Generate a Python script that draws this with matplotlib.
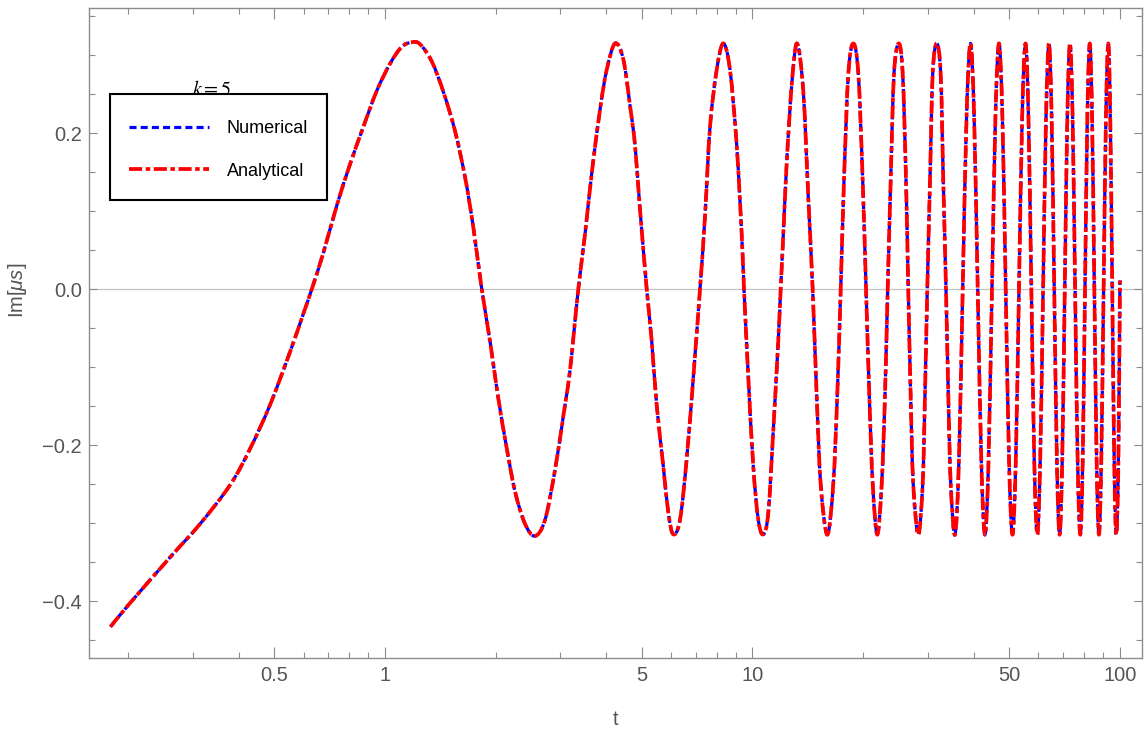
import matplotlib
matplotlib.use("Agg")
import numpy as np
import matplotlib.pyplot as plt
from matplotlib.lines import Line2D
from matplotlib.patches import PathPatch, Rectangle
from matplotlib.path import Path
from matplotlib.ticker import FixedLocator, NullFormatter

# values (log-scaled t axis)
t = [
    0.179, 0.202, 0.260, 0.314, 0.379, 0.429, 0.486, 0.551, 0.599, 0.632,
    0.679, 0.739, 0.803, 0.873, 0.949, 1.032, 1.110, 1.182, 1.245, 1.340,
    1.441, 1.550, 1.651, 1.739, 1.833, 1.931, 2.034, 2.145, 2.258, 2.404,
    2.559, 2.725, 2.901, 3.056, 3.187, 3.357, 3.501, 3.651, 3.846, 4.011,
    4.226, 4.451, 4.642, 4.789, 4.941, 5.154, 5.318, 5.488, 5.719, 5.901,
    6.088, 6.349, 6.621, 6.902, 7.197, 7.425, 7.662, 7.990, 8.327, 8.685,
    9.057, 9.346, 9.482, 9.741, 10.05, 10.37, 10.70, 11.04, 11.39, 11.75,
    11.93, 12.13, 12.39, 12.79, 13.22, 13.75, 14.19, 14.58, 14.95, 15.33,
    15.98, 16.59, 17.01, 17.38, 17.74, 18.23, 18.81, 19.41, 19.95, 20.37,
    20.79, 21.24, 21.86, 22.47, 22.94, 23.33, 23.77, 24.27, 25.00, 25.63,
    26.17, 26.54, 26.94, 27.38, 28.26, 29.05, 29.47, 29.90, 30.41, 30.93,
    31.72, 32.52, 33.05, 33.62, 34.11, 34.63, 35.56,
    36.44, 37.33, 38.25, 39.19, 40.09, 41.01, 41.96, 42.92,
    43.87, 44.84, 45.84, 46.85, 47.86, 48.88, 49.92, 50.99,
    52.04, 53.11, 54.20, 55.32, 56.35, 57.40, 58.47, 59.56,
    60.65, 61.78, 62.94, 64.09, 65.16, 66.25, 67.37, 68.50,
    69.62, 70.76, 71.92, 73.11, 74.31, 75.50, 76.72, 77.98,
    79.16, 80.33, 81.53, 82.76, 83.96, 85.18, 86.42, 87.67,
    88.94, 90.26, 91.60, 92.93, 94.10, 95.29, 96.49, 97.71,
    99.00, 100.0,
]

im_analytical = [
    -0.433, -0.403, -0.344, -0.301, -0.251, -0.205, -0.149, -0.081, -0.032, 0.000,
    0.046, 0.107, 0.160, 0.208, 0.254, 0.289, 0.3105, 0.3165, 0.314, 0.292,
    0.253, 0.203, 0.1435, 0.079, 0.000, -0.067, -0.1405, -0.2046, -0.2595, -0.301,
    -0.3167, -0.296, -0.232, -0.163, -0.104, 0.000, 0.070, 0.148, 0.230, 0.281,
    0.315, 0.2945, 0.235, 0.1846, 0.102, 0.000, -0.067, -0.1496, -0.2274, -0.287,
    -0.3145, -0.296, -0.218, -0.113, 0.000, 0.093, 0.2077, 0.281, 0.315, 0.281,
    0.1846, 0.070, 0.000, -0.113, -0.2274, -0.296, -0.3145, -0.287, -0.1817, -0.067,
    0.000, 0.070, 0.1617, 0.2625, 0.315, 0.253, 0.116, 0.000, -0.136, -0.250,
    -0.315, -0.250, -0.136, 0.000, 0.139, 0.276, 0.315, 0.276, 0.139, 0.000,
    -0.136, -0.250, -0.315, -0.250, -0.136, 0.000, 0.139, 0.276, 0.315, 0.276,
    0.139, 0.000, -0.136, -0.250, -0.315, -0.250, -0.136, 0.000, 0.139, 0.276,
    0.315, 0.276, 0.139, 0.000, -0.136, -0.250, -0.315,
    -0.223, 0.000, 0.223, 0.315, 0.223, 0.000, -0.223, -0.315,
    -0.223, 0.000, 0.223, 0.315, 0.223, 0.000, -0.223, -0.315,
    -0.223, 0.000, 0.223, 0.315, 0.223, 0.000, -0.223, -0.315,
    -0.223, 0.000, 0.223, 0.315, 0.223, 0.000, -0.223, -0.315,
    -0.223, 0.000, 0.223, 0.315, 0.223, 0.000, -0.223, -0.315,
    -0.223, 0.000, 0.223, 0.315, 0.223, 0.000, -0.223, -0.315,
    -0.223, 0.000, 0.223, 0.315, 0.223, 0.000, -0.223, -0.315,
    -0.223, 0.011,
]

# numerical solution sits on top of the analytical one within the line width
im_numerical = list(im_analytical)

x_major = [0.5, 1, 5, 10, 50, 100]
x_major_labels = ["0.5", "1", "5", "10", "50", "100"]
x_minor = [0.2, 0.3, 0.4, 0.6, 0.7, 0.8, 0.9, 2, 3, 4, 6, 7, 8, 9,
           20, 30, 40, 60, 70, 80, 90]
y_major = [-0.4, -0.2, 0.0, 0.2]
y_minor = [-0.45, -0.35, -0.3, -0.25, -0.15, -0.1, -0.05,
           0.05, 0.1, 0.15, 0.25, 0.3, 0.35]

FRAME = "#8c8c8c"
LABEL = "#555555"

plt.rcParams["mathtext.fontset"] = "custom"
plt.rcParams["mathtext.it"] = "Liberation Sans:italic"
plt.rcParams["mathtext.rm"] = "Liberation Sans"


def smooth_path(x, y):
    # cubic curve through the read points, built in log(t) so it follows the axis
    p = np.column_stack([np.log10(x), y])
    ext = np.vstack([p[0], p, p[-1]])
    verts, codes = [p[0]], [Path.MOVETO]
    for i in range(len(p) - 1):
        verts += [ext[i + 1] + (ext[i + 2] - ext[i]) / 6,
                  ext[i + 2] - (ext[i + 3] - ext[i + 1]) / 6,
                  p[i + 1]]
        codes += [Path.CURVE4] * 3
    verts = np.array(verts)
    verts[:, 0] = 10 ** verts[:, 0]
    return Path(verts, codes)


fig = plt.figure(figsize=(11.46, 7.34), dpi=100)
ax = fig.add_axes([0.0777, 0.1035, 0.9188, 0.8855])
ax.set_xscale("log")
ax.set_xlim(0.1565, 114.8)
ax.set_ylim(-0.4731, 0.3603)

ax.axhline(0, color="#c4c4c4", lw=0.9, zorder=1)

blue_style = dict(color="#0000ff", lw=2.3, dashes=(2.2, 1.3))
red_style = dict(color="#ff0000", lw=2.7, dashes=(3.5, 0.95, 1.2, 0.95))

for y, st, z in [(im_numerical, blue_style, 2), (im_analytical, red_style, 3)]:
    ax.add_patch(PathPatch(smooth_path(t, y), fill=False, edgecolor=st["color"],
                           lw=st["lw"], linestyle=(0, st["dashes"]),
                           joinstyle="round", zorder=z))

ax.xaxis.set_major_locator(FixedLocator(x_major))
ax.set_xticklabels(x_major_labels)
ax.xaxis.set_minor_locator(FixedLocator(x_minor))
ax.xaxis.set_minor_formatter(NullFormatter())
ax.yaxis.set_major_locator(FixedLocator(y_major))
ax.yaxis.set_minor_locator(FixedLocator(y_minor))
ax.set_yticklabels([f"{v:.1f}".replace("-", "\u2212") for v in y_major])

for s in ax.spines.values():
    s.set_color(FRAME)
    s.set_linewidth(1.0)

ax.tick_params(which="both", direction="in", top=True, right=True,
               color=FRAME, width=0.8, labelcolor=LABEL, labelsize=14.5)
ax.tick_params(axis="x", which="major", length=8, pad=6)
ax.tick_params(axis="x", which="minor", length=4.5)
ax.tick_params(axis="y", which="major", length=6, pad=5)
ax.tick_params(axis="y", which="minor", length=4)
for lab in ax.get_xticklabels() + ax.get_yticklabels():
    lab.set_family("Liberation Sans")

ax.set_xlabel("t", fontsize=14.5, color=LABEL, family="Liberation Sans")
ax.set_ylabel("Im[$\\mu s$]", fontsize=14.5, color=LABEL, family="Liberation Sans")
ax.xaxis.set_label_coords(0.5, -0.08)
ax.yaxis.set_label_coords(-0.057, 0.566)

# legend box drawn separately so the rows can sit where the reference has them
ax.add_patch(Rectangle((0.0199, 0.7046), 0.2061, 0.1631, transform=ax.transAxes,
                       facecolor="white", edgecolor="black", lw=1.5, zorder=4))
handles = [Line2D([], [], **blue_style), Line2D([], [], **red_style)]
leg = ax.legend(handles, ["Numerical", "Analytical"], loc="upper left",
                bbox_to_anchor=(0.038, 0.8278), borderaxespad=0, borderpad=0,
                frameon=False, handlelength=4.4, handletextpad=1.0,
                labelspacing=1.43, prop={"family": "Liberation Sans", "size": 13})
leg.set_zorder(5)

ax.text(0.1168, 0.866, r"$k=5$", transform=ax.transAxes, ha="center",
        va="baseline", fontsize=14.5, math_fontfamily="stix", zorder=6)

fig.savefig("out.png", dpi=100)
